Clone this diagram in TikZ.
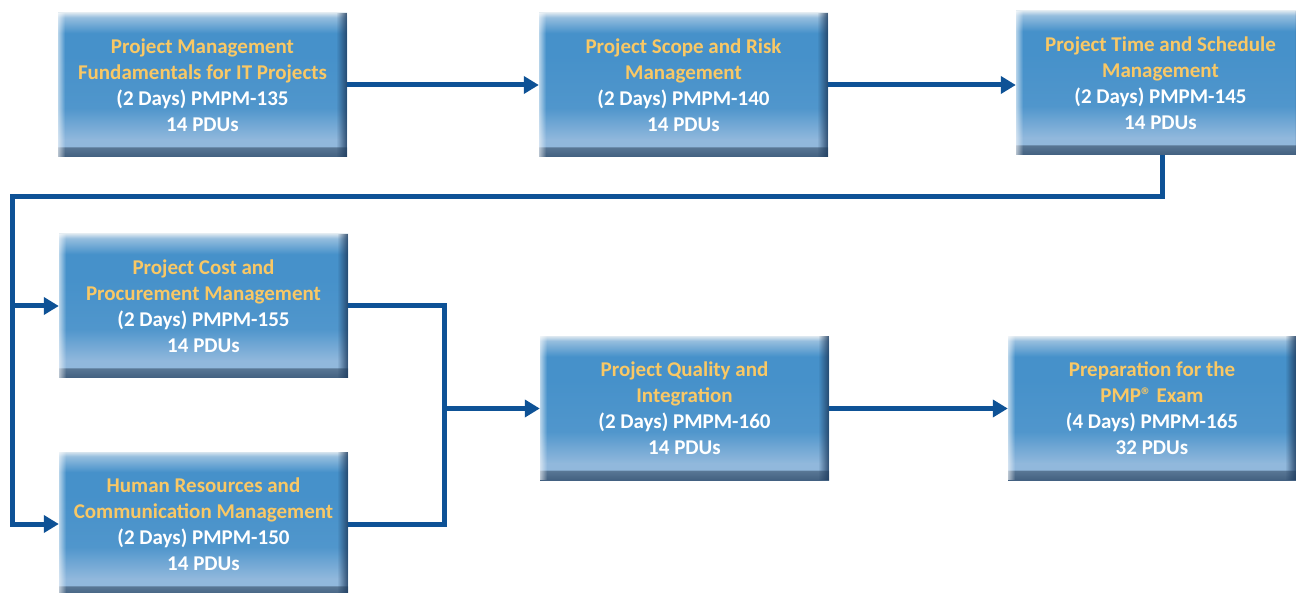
\documentclass[tikz,border=0pt]{standalone}
\usepackage{fontspec}
\setmainfont{Carlito}
\usetikzlibrary{arrows.meta,fadings}
\definecolor{linecol}{RGB}{14,82,150}
\definecolor{titlecol}{RGB}{249,200,101}
\definecolor{edgedark}{RGB}{30,60,95}
\definecolor{rimtop}{RGB}{214,228,238}
\definecolor{lighttop}{RGB}{150,190,222}
\definecolor{bodyblue}{RGB}{70,145,202}
\definecolor{bodymid}{RGB}{80,150,204}
\definecolor{lowlight}{RGB}{145,184,220}
\definecolor{botrim}{RGB}{88,118,148}
\definecolor{botdark}{RGB}{66,96,128}
\pgfdeclareverticalshading{boxshade}{100bp}{
  color(0bp)=(botdark);
  color(25bp)=(botdark);
  color(28.3bp)=(botrim);
  color(28.8bp)=(lowlight);
  color(31bp)=(lowlight);
  color(42bp)=(bodymid);
  color(60bp)=(bodyblue);
  color(68bp)=(bodyblue);
  color(73.5bp)=(lighttop);
  color(75bp)=(rimtop);
  color(100bp)=(rimtop)}
\tikzfading[name=fadeR, left color=transparent!100, right color=transparent!15]
\tikzfading[name=fadeL, left color=transparent!40, right color=transparent!100]
\newcommand{\wl}[1]{\textcolor{white}{#1}}
\tikzset{
  course/.style={minimum width=289pt, minimum height=144pt, inner sep=0pt,
    align=center, text=titlecol, font=\fontsize{21}{26}\selectfont\bfseries,
    path picture={
      \shade[shading=boxshade] (path picture bounding box.south west) rectangle (path picture bounding box.north east);
      \fill[edgedark, path fading=fadeR] ([xshift=-11pt]path picture bounding box.north east) rectangle (path picture bounding box.south east);
      \fill[white, path fading=fadeL] (path picture bounding box.north west) rectangle ([xshift=7pt]path picture bounding box.south west);
    }},
  line/.style={draw=linecol, line width=5pt},
  conn/.style={line, -{Triangle[length=15pt,width=17pt]}}
}
\begin{document}
\begin{tikzpicture}[x=1pt,y=-1pt]
\useasboundingbox (0,0) rectangle (1296,593);
\clip (0,0) rectangle (1296,593);
\node[course] (b1) at (202.5,85) {Project Management\\Fundamentals for IT Projects\\\wl{(2 Days) PMPM-135}\\\wl{14 PDUs}};
\node[course] (b2) at (683.5,85) {Project Scope and Risk\\Management\\\wl{(2 Days) PMPM-140}\\\wl{14 PDUs}};
\node[course] (b3) at (1160.5,83) {Project Time and Schedule\\Management\\\wl{(2 Days) PMPM-145}\\\wl{14 PDUs}};
\node[course] (b4) at (203.5,306) {Project Cost and\\Procurement Management\\\wl{(2 Days) PMPM-155}\\\wl{14 PDUs}};
\node[course] (b5) at (203.5,524) {Human Resources and\\Communication Management\\\wl{(2 Days) PMPM-150}\\\wl{14 PDUs}};
\node[course] (b6) at (684.5,408.5) {Project Quality and\\Integration\\\wl{(2 Days) PMPM-160}\\\wl{14 PDUs}};
\node[course, minimum width=288pt] (b7) at (1152,408.5) {Preparation for the\\PMP® Exam\\\wl{(4 Days) PMPM-165}\\\wl{32 PDUs}};
\coordinate (c1) at (1162,197);
\coordinate (c2) at (12,197);
\coordinate (m) at (444,408.5);
\draw[conn] (b1.east) -- (b2.west);
\draw[conn] (b2.east) -- (b2.east -| b3.west);
\draw[conn] (c1 |- b3.south) -- (c1) -- (c2) |- (b5.west);
\draw[conn] (c2 |- b4.west) -- (b4.west);
\draw[line] (b4.east) -| (m) |- (b5.east);
\draw[conn] (m) -- (b6.west);
\draw[conn] (b6.east) -- (b7.west);
\end{tikzpicture}
\end{document}
